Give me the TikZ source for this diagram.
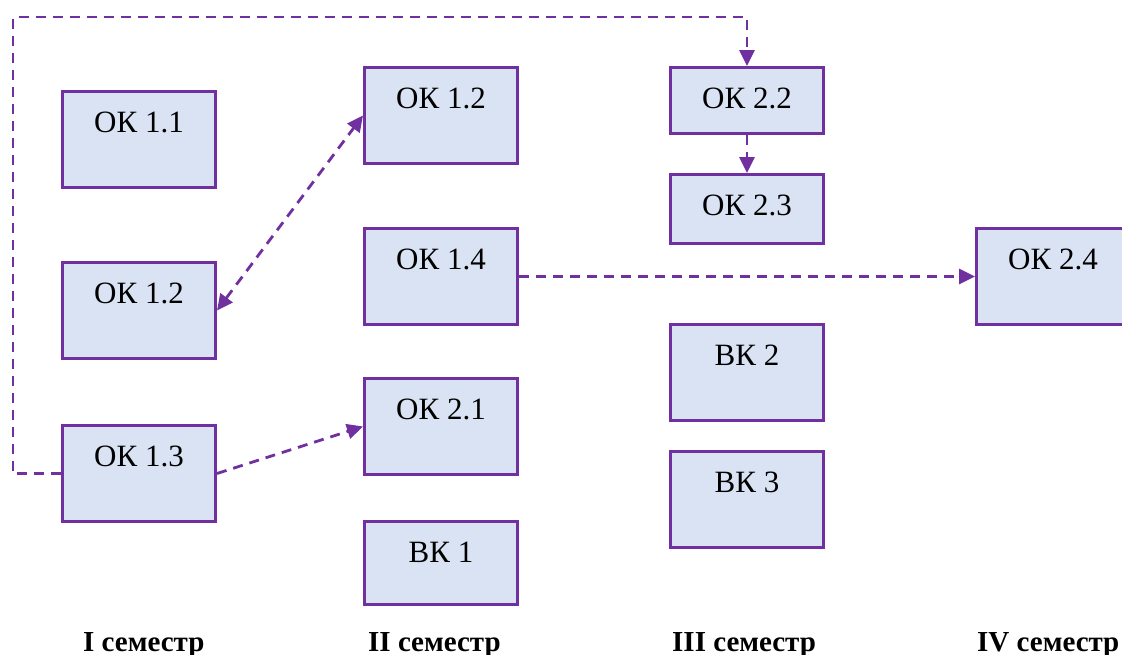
\documentclass[tikz,border=0pt]{standalone}
\usepackage{fontspec}
\setmainfont{Liberation Serif}
\usetikzlibrary{arrows.meta}
\definecolor{kpurple}{HTML}{7030A0}
\definecolor{kfill}{HTML}{DAE3F3}

\begin{document}
\begin{tikzpicture}[x=1pt,y=-1pt,
    kbox/.style={draw=kpurple, fill=kfill, line width=3pt, anchor=north west,
      minimum width=153pt, inner xsep=0pt, inner ysep=0pt,
      text height=41pt, text depth=#1, font=\fontsize{31}{36}\selectfont},
    kbox/.default=55pt,
    link/.style={draw=kpurple, line width=2.8pt, dash pattern=on 10pt off 7pt,
      -{Triangle[length=16pt,width=15pt]}},
    sem/.style={anchor=base west, inner sep=0pt, font=\fontsize{29}{34}\selectfont\bfseries}]
   \useasboundingbox (0,0) rectangle (1122,654);

   % I
   \node[kbox] (ok11) at (61,90) {ОК 1.1};
   \node[kbox] (ok12a) at (61,261) {ОК 1.2};
   \node[kbox] (ok13) at (61,424) {ОК 1.3};
   % II
   \node[kbox] (ok12b) at (363,66) {ОК 1.2};
   \node[kbox] (ok14) at (363,227) {ОК 1.4};
   \node[kbox] (ok21) at (363,377) {ОК 2.1};
   \node[kbox=42pt] (vk1) at (363,520) {ВК 1};
   % III
   \node[kbox=25pt] (ok22) at (669,66) {ОК 2.2};
   \node[kbox=28pt] (ok23) at (669,173) {ОК 2.3};
   \node[kbox] (vk2) at (669,323) {ВК 2};
   \node[kbox] (vk3) at (669,450) {ВК 3};
   % IV
   \node[kbox] (ok24) at (975,227) {ОК 2.4};

   \node[sem] (s1) at (83,651) {I семестр};
   \node[sem] (s2) at (368,651) {II семестр};
   \node[sem] (s3) at (672,651) {III семестр};
   \node[sem] (s4) at (977,651) {IV семестр};

   \coordinate (c1) at (13,17);
   \draw[link] (ok13.west) -| (c1) -| (ok22.north);
   \draw[link] (ok22.south) -- (ok23.north);
   \draw[link] (ok14.east) -- (ok24.west);
   \draw[link] (ok13.east) -- (ok21.west);
   \draw[link,{Triangle[length=16pt,width=15pt]}-{Triangle[length=16pt,width=15pt]}] (ok12a.east) -- (ok12b.west);
\end{tikzpicture}
\end{document}
